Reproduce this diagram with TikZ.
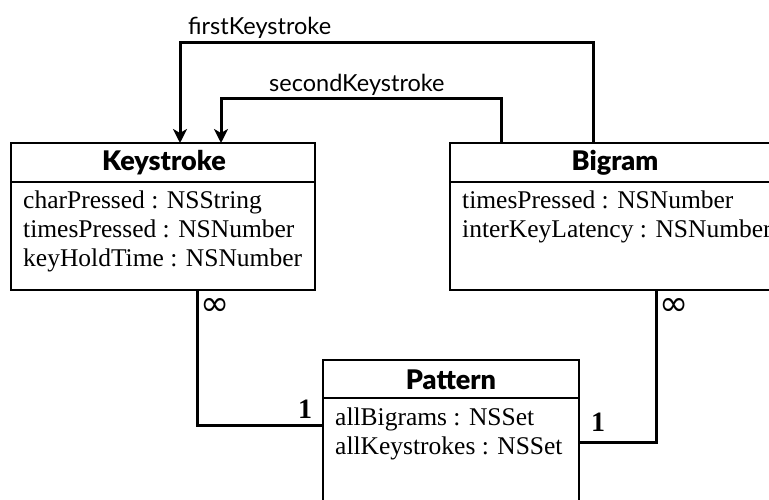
\documentclass[tikz,border=0pt]{standalone}
\usepackage{fontspec}
\setmainfont{Liberation Serif}
\newfontfamily\labelfont{Lato}
\newfontfamily\titlefont{Lato}[UprightFont=* Black]
\newfontfamily\symfont{DejaVu Sans}
\usetikzlibrary{arrows.meta}

\tikzset{
  umlbox/.style={draw, line width=2.4pt, rectangle, inner sep=0pt, outer sep=0pt},
  divider/.style={line width=2.4pt},
  conn/.style={line width=3pt},
  arrowed/.style={conn, -{Stealth[length=14pt, width=14pt, inset=4pt]}},
  classname/.style={inner sep=0pt, font=\titlefont\fontsize{27}{27}\selectfont},
  attr/.style={inner sep=0pt, anchor=base west, font=\fontsize{25.5}{29}\selectfont},
  rolename/.style={inner sep=0pt, anchor=base west, font=\labelfont\fontsize{23.5}{23.5}\selectfont},
  mult/.style={inner sep=0pt, font=\bfseries\fontsize{28}{28}\selectfont},
  many/.style={inner sep=0pt, font=\symfont\fontsize{35}{35}\selectfont}
}

\begin{document}
\begin{tikzpicture}[x=1pt, y=-1pt]
\useasboundingbox (0,0) rectangle (769,500);
\clip (0,0) rectangle (769,500);

% class boxes
\node[umlbox, minimum width=304pt, minimum height=147pt] (ks) at (163,216.5) {};
\node[umlbox, minimum width=330pt, minimum height=147pt] (bg) at (615,216.5) {};
\node[umlbox, minimum width=256pt, minimum height=180pt] (pt) at (451,450) {};

% header dividers
\draw[divider] ([yshift=-39pt]ks.north west) -- ([yshift=-39pt]ks.north east);
\draw[divider] ([yshift=-39pt]bg.north west) -- ([yshift=-39pt]bg.north east);
\draw[divider] ([yshift=-38pt]pt.north west) -- ([yshift=-38pt]pt.north east);

% class names
\node[classname] (ksname) at (164,163) {Keystroke};
\node[classname] (bgname) at (615,163) {Bigram};
\node[classname] (ptname) at (451,380) {Pattern};

% attributes
\node[attr] (ka1) at (23,208) {charPressed : NSString};
\node[attr] (ka2) at (23,237) {timesPressed : NSNumber};
\node[attr] (ka3) at (23,266) {keyHoldTime : NSNumber};
\node[attr] (ba1) at (462,208) {timesPressed : NSNumber};
\node[attr] (ba2) at (462,237) {interKeyLatency : NSNumber};
\node[attr] (pa1) at (335,425) {allBigrams : NSSet};
\node[attr] (pa2) at (335,454) {allKeystrokes : NSSet};

% references from Bigram to Keystroke
\draw[arrowed] ([xshift=-22pt]bg.north) -- ++(0,-100) -| ([xshift=17pt]ks.north);
\draw[arrowed] ([xshift=-114pt]bg.north) -- ++(0,-44) -| ([xshift=58pt]ks.north);
\node[rolename] (fk) at (188,35) {firstKeystroke};
\node[rolename] (sk) at (269,92) {secondKeystroke};

% aggregations into Pattern
\draw[conn] ([xshift=34pt]ks.south) |- ([yshift=-65pt]pt.north west);
\draw[conn] ([xshift=41pt]bg.south) |- ([yshift=-82pt]pt.north east);

% multiplicities
\node[many] (kinf) at (215,307) {∞};
\node[many] (binf) at (674,307) {∞};
\node[mult] (kone) at (305,409) {1};
\node[mult] (bone) at (598,422) {1};
\end{tikzpicture}
\end{document}
